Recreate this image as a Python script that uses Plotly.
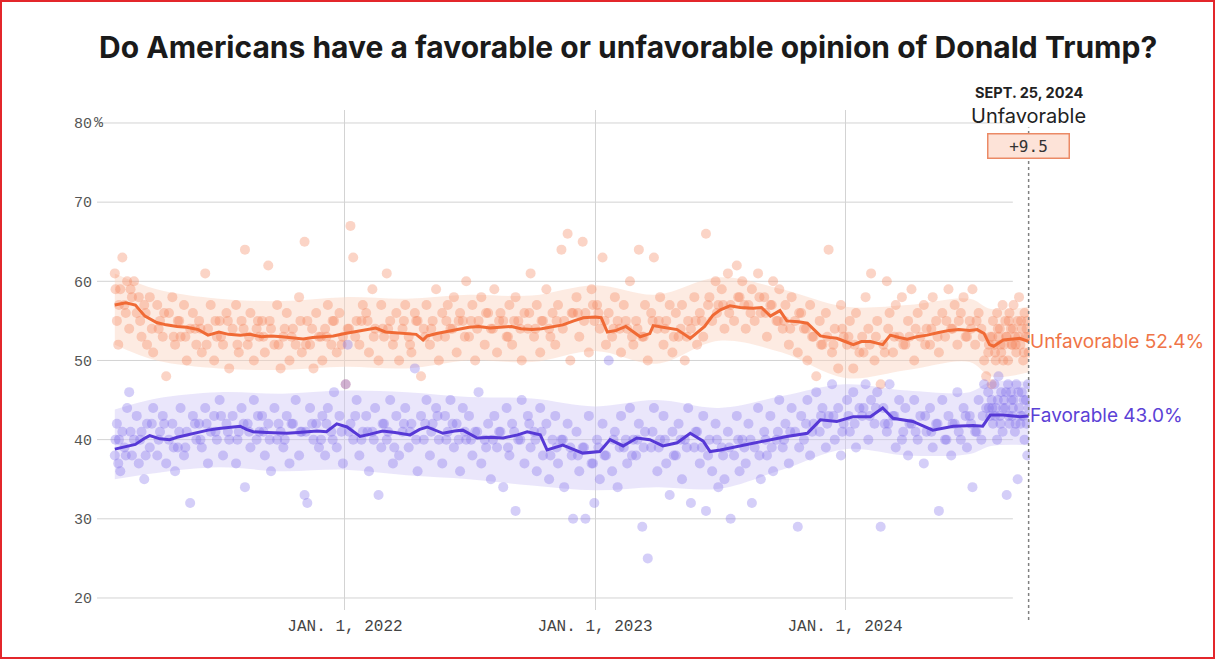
import plotly.graph_objects as go

# poll-by-poll results (each poll gives a favorable and an unfavorable share)
poll_dates = [
    "2021-01-30", "2021-01-31", "2021-02-02", "2021-02-04", "2021-02-07", "2021-02-10", "2021-02-13", "2021-02-17", "2021-02-20", "2021-02-24", "2021-02-27",
    "2021-03-03", "2021-03-06", "2021-03-10", "2021-03-14", "2021-03-18", "2021-03-22", "2021-03-27",
    "2021-04-02", "2021-04-06", "2021-04-10", "2021-04-15", "2021-04-19", "2021-04-24", "2021-04-28",
    "2021-05-02", "2021-05-06", "2021-05-11", "2021-05-15", "2021-05-20", "2021-05-24", "2021-05-29",
    "2021-06-02", "2021-06-06", "2021-06-11", "2021-06-15", "2021-06-19", "2021-06-24", "2021-06-28",
    "2021-07-02", "2021-07-07", "2021-07-12", "2021-07-16", "2021-07-21", "2021-07-26", "2021-07-30",
    "2021-08-03", "2021-08-08", "2021-08-12", "2021-08-16", "2021-08-21", "2021-08-25", "2021-08-29",
    "2021-09-02", "2021-09-06", "2021-09-11", "2021-09-15", "2021-09-20", "2021-09-24", "2021-09-29",
    "2021-10-03", "2021-10-08", "2021-10-12", "2021-10-17", "2021-10-21", "2021-10-26", "2021-10-30",
    "2021-11-03", "2021-11-07", "2021-11-11", "2021-11-16", "2021-11-20", "2021-11-24", "2021-11-29",
    "2021-12-03", "2021-12-07", "2021-12-12", "2021-12-16", "2021-12-20", "2021-12-24", "2021-12-29",
    "2022-01-02", "2022-01-05", "2022-01-09", "2022-01-13", "2022-01-18", "2022-01-22", "2022-01-27",
    "2022-02-01", "2022-02-05", "2022-02-10", "2022-02-14", "2022-02-19", "2022-02-23", "2022-02-27",
    "2022-03-03", "2022-03-08", "2022-03-12", "2022-03-17", "2022-03-21", "2022-03-26", "2022-03-30",
    "2022-04-04", "2022-04-08", "2022-04-13", "2022-04-17", "2022-04-22", "2022-04-26", "2022-04-30",
    "2022-05-05", "2022-05-09", "2022-05-14", "2022-05-18", "2022-05-23", "2022-05-27", "2022-05-31",
    "2022-06-04", "2022-06-09", "2022-06-13", "2022-06-18", "2022-06-22", "2022-06-27",
    "2022-07-01", "2022-07-06", "2022-07-10", "2022-07-15", "2022-07-19", "2022-07-24", "2022-07-29",
    "2022-08-02", "2022-08-07", "2022-08-11", "2022-08-16", "2022-08-20", "2022-08-25", "2022-08-29",
    "2022-09-02", "2022-09-07", "2022-09-11", "2022-09-16", "2022-09-20", "2022-09-25", "2022-09-29",
    "2022-10-04", "2022-10-08", "2022-10-13", "2022-10-17", "2022-10-22", "2022-10-26", "2022-10-31",
    "2022-11-04", "2022-11-08", "2022-11-13", "2022-11-17", "2022-11-22", "2022-11-26", "2022-11-30",
    "2022-12-05", "2022-12-09", "2022-12-14", "2022-12-18", "2022-12-23", "2022-12-27", "2022-12-31",
    "2023-01-04", "2023-01-08", "2023-01-12", "2023-01-17", "2023-01-21", "2023-01-26", "2023-01-30",
    "2023-02-03", "2023-02-08", "2023-02-12", "2023-02-17", "2023-02-21", "2023-02-26",
    "2023-03-02", "2023-03-06", "2023-03-11", "2023-03-15", "2023-03-19", "2023-03-24", "2023-03-28",
    "2023-04-02", "2023-04-06", "2023-04-11", "2023-04-15", "2023-04-20", "2023-04-24", "2023-04-29",
    "2023-05-03", "2023-05-08", "2023-05-12", "2023-05-17", "2023-05-21", "2023-05-26", "2023-05-30",
    "2023-06-03", "2023-06-08", "2023-06-12", "2023-06-17", "2023-06-21", "2023-06-26", "2023-06-30",
    "2023-07-05", "2023-07-09", "2023-07-14", "2023-07-18", "2023-07-23", "2023-07-27", "2023-07-31",
    "2023-08-04", "2023-08-09", "2023-08-13", "2023-08-18", "2023-08-22", "2023-08-27", "2023-08-31",
    "2023-09-05", "2023-09-09", "2023-09-14", "2023-09-18", "2023-09-23", "2023-09-27",
    "2023-10-02", "2023-10-06", "2023-10-11", "2023-10-15", "2023-10-20", "2023-10-24", "2023-10-29",
    "2023-11-02", "2023-11-07", "2023-11-11", "2023-11-16", "2023-11-20", "2023-11-25", "2023-11-29",
    "2023-12-04", "2023-12-08", "2023-12-13", "2023-12-17", "2023-12-22", "2023-12-26", "2023-12-30",
    "2024-01-04", "2024-01-08", "2024-01-13", "2024-01-17", "2024-01-22", "2024-01-26", "2024-01-31",
    "2024-02-04", "2024-02-08", "2024-02-13", "2024-02-17", "2024-02-22", "2024-02-26",
    "2024-03-02", "2024-03-06", "2024-03-11", "2024-03-15", "2024-03-20", "2024-03-24", "2024-03-29",
    "2024-04-02", "2024-04-07", "2024-04-11", "2024-04-16", "2024-04-20", "2024-04-25", "2024-04-29",
    "2024-05-04", "2024-05-08", "2024-05-13", "2024-05-17", "2024-05-22", "2024-05-26", "2024-05-31",
    "2024-06-04", "2024-06-09", "2024-06-13", "2024-06-18", "2024-06-22", "2024-06-27",
    "2024-07-01", "2024-07-05", "2024-07-09", "2024-07-14", "2024-07-18", "2024-07-22", "2024-07-25", "2024-07-28", "2024-07-31",
    "2024-08-02", "2024-08-04", "2024-08-06", "2024-08-08", "2024-08-10", "2024-08-12", "2024-08-14", "2024-08-16",
    "2024-08-18", "2024-08-20", "2024-08-22", "2024-08-24", "2024-08-26", "2024-08-28", "2024-08-30",
    "2024-09-01", "2024-09-03", "2024-09-05", "2024-09-07", "2024-09-09", "2024-09-11", "2024-09-13",
    "2024-09-15", "2024-09-17", "2024-09-19", "2024-09-21", "2024-09-23", "2024-09-25",
    # polls close to the average, filling in the core of each cloud
    "2021-02-05", "2021-02-15", "2021-02-22", "2021-03-08", "2021-03-16", "2021-03-25",
    "2021-04-04", "2021-04-12", "2021-04-26", "2021-05-04", "2021-05-13", "2021-05-27",
    "2021-06-04", "2021-06-13", "2021-06-26", "2021-07-04", "2021-07-14", "2021-07-28",
    "2021-08-06", "2021-08-14", "2021-08-27", "2021-09-04", "2021-09-13", "2021-09-26",
    "2021-10-05", "2021-10-15", "2021-10-28", "2021-11-05", "2021-11-14", "2021-11-27",
    "2021-12-05", "2021-12-14", "2021-12-27",
    "2022-01-07", "2022-01-16", "2022-01-25", "2022-02-03", "2022-02-12", "2022-02-25",
    "2022-03-05", "2022-03-14", "2022-03-28", "2022-04-06", "2022-04-15", "2022-04-28",
    "2022-05-07", "2022-05-16", "2022-05-29", "2022-06-07", "2022-06-16", "2022-06-25",
    "2022-07-04", "2022-07-13", "2022-07-26", "2022-08-05", "2022-08-14", "2022-08-27",
    "2022-09-05", "2022-09-14", "2022-09-27", "2022-10-06", "2022-10-15", "2022-10-28",
    "2022-11-06", "2022-11-15", "2022-11-28", "2022-12-07", "2022-12-16", "2022-12-29",
    "2023-01-06", "2023-01-15", "2023-01-28", "2023-02-06", "2023-02-15", "2023-02-24",
    "2023-03-04", "2023-03-13", "2023-03-26", "2023-04-04", "2023-04-13", "2023-04-26",
    "2023-05-06", "2023-05-15", "2023-05-28", "2023-06-06", "2023-06-15", "2023-06-28",
    "2023-07-07", "2023-07-16", "2023-07-29", "2023-08-07", "2023-08-16", "2023-08-29",
    "2023-09-07", "2023-09-16", "2023-09-25", "2023-10-04", "2023-10-13", "2023-10-26",
    "2023-11-05", "2023-11-14", "2023-11-27", "2023-12-06", "2023-12-15", "2023-12-28",
    "2024-01-06", "2024-01-15", "2024-01-28", "2024-02-06", "2024-02-15", "2024-02-28",
    "2024-03-04", "2024-03-13", "2024-03-26", "2024-04-04", "2024-04-13", "2024-04-27",
    "2024-05-06", "2024-05-15", "2024-05-28", "2024-06-06", "2024-06-15", "2024-06-25",
    "2024-07-03", "2024-07-11", "2024-07-20", "2024-07-29",
    "2024-08-03", "2024-08-07", "2024-08-11", "2024-08-15", "2024-08-19", "2024-08-23", "2024-08-27", "2024-08-31",
    "2024-09-02", "2024-09-06", "2024-09-10", "2024-09-14", "2024-09-18", "2024-09-22", "2024-09-24",
]

fav_polls = [
    38, 40, 42, 37, 36, 41, 39, 44, 46, 38, 40,
    43, 37, 41, 35, 42, 39, 44,
    38, 41, 43, 37, 40, 42, 36,
    39, 44, 38, 41, 32, 43, 40,
    42, 39, 44, 37, 41, 43, 40,
    45, 38, 42, 40, 43, 37, 41,
    44, 34, 42, 39, 45, 40, 41,
    43, 38, 42, 36, 44, 40, 41,
    39, 43, 37, 42, 45, 38, 41,
    33, 32, 44, 40, 42, 39, 43,
    38, 44, 41, 46, 39, 43, 37,
    47, 52, 42, 40, 45, 38, 41,
    43, 36, 41, 44, 33, 39, 42,
    40, 45, 37, 43, 38, 41, 44,
    39, 42, 49, 36, 43, 40, 45,
    38, 42, 44, 40, 37, 43, 41,
    45, 39, 42, 36, 44, 40,
    43, 38, 41, 46, 37, 40, 42,
    35, 43, 39, 41, 34, 44, 38,
    42, 31, 40, 45, 37, 43, 39,
    41, 36, 44, 38, 42, 35, 40,
    43, 37, 40, 34, 42, 39, 30,
    41, 36, 39, 30, 43, 37, 32,
    40, 35, 42, 38, 50, 36, 41,
    34, 43, 39, 37, 44, 40,
    38, 42, 29, 41, 25, 39, 44,
    36, 40, 43, 37, 33, 41, 38,
    42, 35, 40, 44, 32, 39, 41,
    37, 43, 31, 40, 36, 42, 34,
    39, 35, 41, 30, 38, 43, 36,
    40, 37, 42, 32, 39, 44, 35,
    41, 38, 43, 36, 40, 45,
    39, 42, 37, 44, 41, 29, 43,
    40, 45, 38, 42, 46, 41, 44,
    39, 43, 47, 40, 44, 38, 42,
    45, 41, 46, 39, 44, 43, 47,
    40, 45, 42, 46, 29, 44,
    41, 47, 43, 39, 45, 40, 44,
    38, 42, 45, 40, 43, 37, 41,
    44, 39, 42, 31, 45, 40, 43,
    38, 42, 46, 40, 44, 39,
    43, 34, 41, 45, 40, 47, 44, 46, 43,
    45, 42, 47, 44, 40, 48, 43, 46,
    41, 45, 44, 33, 47, 42, 46,
    43, 45, 41, 47, 35, 44, 42,
    46, 43, 40, 45, 38, 44,
    # core
    40, 38, 41, 40, 38, 42,
    40, 42, 39, 41, 39, 42,
    40, 42, 41, 43, 41, 40,
    42, 41, 43, 41, 40, 42,
    40, 42, 41, 41, 42, 40,
    42, 40, 41,
    41, 43, 40, 41, 40, 42,
    41, 39, 42, 41, 40, 42,
    41, 43, 40, 42, 40, 41,
    40, 41, 39, 40, 41, 39,
    41, 40, 42, 40, 41, 38,
    39, 40, 38, 38, 39, 37,
    39, 38, 40, 39, 40, 38,
    40, 39, 41, 39, 40, 38,
    40, 39, 41, 39, 38, 40,
    38, 39, 40, 39, 40, 38,
    40, 39, 41, 40, 41, 39,
    42, 41, 43, 42, 43, 41,
    43, 42, 44, 43, 44, 42,
    42, 43, 41, 42, 41, 43,
    41, 42, 40, 42, 41, 43,
    42, 41, 43, 44,
    44, 43, 45, 42, 44, 46, 43, 45,
    44, 42, 46, 43, 45, 42, 47,
]

unfav_polls = [
    61, 59, 55, 52, 59, 63, 57, 60, 54, 58, 60,
    56, 58, 53, 57, 52, 58, 51,
    57, 55, 53, 48, 56, 58, 52,
    55, 53, 57, 50, 54, 56, 52,
    55, 51, 61, 54, 57, 50, 53,
    55, 52, 56, 49, 54, 57, 51,
    55, 64, 52, 56, 50, 54, 53,
    55, 51, 62, 54, 52, 57, 49,
    53, 56, 50, 54, 52, 58, 51,
    65, 55, 52, 49, 56, 53, 50,
    54, 57, 52, 55, 51, 56, 53,
    47, 54, 67, 63, 55, 52, 57,
    56, 51, 59, 54, 50, 57, 53,
    61, 55, 52, 56, 50, 54, 57,
    53, 51, 56, 55, 48, 54, 57,
    52, 55, 59, 50, 56, 53, 57,
    54, 58, 51, 56, 55, 60,
    53, 57, 50, 55, 58, 52, 56,
    54, 59, 51, 56, 55, 53, 57,
    52, 58, 55, 50, 56, 54, 61,
    53, 57, 51, 55, 59, 54, 56,
    52, 57, 64, 55, 66, 50, 56,
    58, 53, 65, 56, 51, 59, 55,
    57, 54, 63, 52, 56, 53, 58,
    55, 51, 57, 54, 60, 52,
    55, 64, 53, 57, 50, 56, 63,
    54, 58, 52, 55, 57, 51, 56,
    53, 57, 50, 55, 54, 58, 52,
    56, 53, 66, 58, 55, 60, 57,
    59, 54, 61, 57, 55, 62, 58,
    60, 54, 57, 59, 55, 61, 56,
    58, 53, 57, 60, 55, 59,
    54, 57, 52, 58, 55, 51, 56,
    54, 50, 57, 53, 48, 55, 52,
    56, 64, 51, 54, 49, 57, 53,
    52, 55, 49, 56, 51, 53, 58,
    54, 61, 50, 55, 47, 52,
    60, 56, 51, 57, 53, 58, 52,
    55, 59, 50, 56, 53, 57, 54,
    52, 58, 55, 51, 56, 53, 59,
    54, 57, 52, 56, 58, 53,
    55, 59, 52, 56, 54, 50, 48, 51, 53,
    47, 55, 52, 50, 56, 53, 54, 51,
    57, 52, 55, 53, 50, 56, 54,
    52, 57, 53, 51, 55, 58, 52,
    54, 50, 56, 53, 55, 51,
    # core
    57, 56, 59, 55, 56, 54,
    54, 56, 53, 55, 53, 54,
    54, 52, 55, 53, 55, 52,
    54, 53, 55, 53, 55, 52,
    54, 53, 55, 52, 54, 53,
    53, 55, 52,
    54, 53, 55, 55, 53, 54,
    54, 53, 55, 52, 55, 53,
    54, 53, 55, 54, 55, 53,
    55, 54, 56, 54, 55, 53,
    55, 54, 56, 54, 55, 53,
    55, 54, 56, 56, 55, 57,
    56, 55, 54, 54, 55, 53,
    54, 53, 55, 55, 54, 53,
    54, 53, 55, 55, 57, 56,
    57, 56, 58, 57, 56, 58,
    56, 57, 55, 55, 54, 56,
    54, 53, 52, 53, 52, 54,
    53, 52, 51, 52, 53, 51,
    54, 53, 52, 53, 54, 52,
    54, 53, 55, 54, 55, 53,
    54, 55, 53, 52,
    53, 51, 54, 52, 50, 53, 55, 52,
    54, 52, 53, 55, 51, 54, 53,
]

# polling averages
unfav_dates = [
    "2021-01-30", "2021-02-15", "2021-03-01", "2021-03-15", "2021-04-01", "2021-04-15", "2021-05-01", "2021-05-15",
    "2021-06-01", "2021-06-15", "2021-07-01", "2021-07-15", "2021-08-01", "2021-08-15", "2021-09-01", "2021-09-15",
    "2021-10-01", "2021-10-15", "2021-11-01", "2021-11-15", "2021-12-01", "2021-12-15", "2022-01-01", "2022-01-15",
    "2022-02-01", "2022-02-15", "2022-03-01", "2022-03-15", "2022-04-01", "2022-04-15", "2022-04-25", "2022-05-01",
    "2022-05-15", "2022-06-01", "2022-06-15", "2022-07-01", "2022-07-15", "2022-08-01", "2022-08-15", "2022-09-01",
    "2022-09-15", "2022-10-01", "2022-10-15", "2022-11-01", "2022-11-15", "2022-12-01", "2022-12-15", "2023-01-01",
    "2023-01-10", "2023-01-19", "2023-02-01", "2023-02-15", "2023-03-01", "2023-03-08", "2023-03-22", "2023-03-27",
    "2023-04-10", "2023-05-01", "2023-05-20", "2023-06-01", "2023-06-10", "2023-06-22", "2023-07-03", "2023-07-17",
    "2023-08-01", "2023-08-20", "2023-09-01", "2023-09-14", "2023-09-28", "2023-10-08", "2023-10-25", "2023-11-07",
    "2023-11-26", "2023-12-10", "2023-12-20", "2024-01-01", "2024-01-13", "2024-01-25", "2024-02-07", "2024-02-25",
    "2024-03-07", "2024-03-20", "2024-04-01", "2024-04-15", "2024-04-30", "2024-05-15", "2024-06-01", "2024-06-15",
    "2024-07-01", "2024-07-12", "2024-07-22", "2024-07-30", "2024-08-05", "2024-08-19", "2024-09-01", "2024-09-12",
    "2024-09-25",
]
unfav_avg = [
    57.0, 57.3, 57.0, 55.6, 54.8, 54.5, 54.3, 54.2,
    53.9, 53.2, 53.6, 53.3, 53.2, 53.3, 53.0, 53.1,
    53.0, 52.9, 52.7, 52.9, 53.0, 53.1, 53.4, 53.6,
    53.9, 54.1, 53.6, 53.5, 53.4, 53.3, 52.6, 53.1,
    53.4, 53.7, 54.0, 54.2, 54.3, 54.1, 54.2, 54.3,
    54.0, 53.9, 54.0, 54.3, 54.5, 55.0, 55.4, 55.5,
    55.4, 53.6, 53.8, 54.3, 53.4, 53.0, 53.4, 54.4,
    54.2, 53.9, 52.8, 53.6, 54.3, 55.7, 56.4, 56.9,
    56.7, 56.6, 56.7, 55.6, 56.3, 55.0, 54.9, 54.7,
    53.1, 52.9, 52.8, 52.4, 52.0, 52.4, 52.4, 52.0,
    53.2, 52.9, 52.7, 53.0, 53.2, 53.5, 53.8, 53.9,
    53.8, 53.9, 53.4, 52.0, 51.8, 52.6, 52.7, 52.8,
    52.4,
]

fav_dates = [
    "2021-01-30", "2021-02-15", "2021-03-01", "2021-03-15", "2021-03-22", "2021-04-06", "2021-04-20", "2021-05-01",
    "2021-05-15", "2021-06-01", "2021-06-15", "2021-07-01", "2021-07-15", "2021-08-01", "2021-08-10", "2021-08-20",
    "2021-09-09", "2021-10-08", "2021-10-25", "2021-11-07", "2021-11-21", "2021-12-05", "2021-12-20", "2022-01-04",
    "2022-01-23", "2022-02-07", "2022-02-25", "2022-03-15", "2022-04-06", "2022-04-20", "2022-05-01", "2022-05-24",
    "2022-06-10", "2022-06-22", "2022-07-13", "2022-08-01", "2022-08-20", "2022-09-10", "2022-09-24", "2022-10-13",
    "2022-10-23", "2022-11-15", "2022-12-01", "2022-12-14", "2023-01-08", "2023-01-23", "2023-02-11", "2023-03-03",
    "2023-03-22", "2023-04-10", "2023-05-01", "2023-05-20", "2023-06-08", "2023-06-18", "2023-07-03", "2023-07-20",
    "2023-08-20", "2023-09-14", "2023-10-08", "2023-11-07", "2023-11-26", "2023-12-20", "2024-01-13", "2024-02-07",
    "2024-02-25", "2024-03-11", "2024-04-09", "2024-05-08", "2024-06-07", "2024-07-06", "2024-07-20", "2024-07-31",
    "2024-08-19", "2024-09-12", "2024-09-25",
]
fav_avg = [
    38.8, 39.1, 39.4, 40.2, 40.5, 40.1, 40.0, 40.3,
    40.6, 40.9, 41.2, 41.4, 41.5, 41.7, 41.3, 41.0,
    40.9, 40.8, 40.9, 41.0, 41.1, 41.0, 42.0, 41.6,
    40.4, 40.7, 41.1, 40.9, 40.6, 41.3, 41.6, 40.8,
    41.1, 41.2, 40.2, 40.3, 40.2, 40.6, 41.0, 40.6,
    38.7, 39.3, 38.8, 38.3, 38.5, 40.0, 39.2, 40.2,
    40.0, 39.2, 39.6, 40.8, 39.8, 38.5, 38.7, 39.0,
    39.6, 40.0, 40.4, 40.8, 42.5, 42.3, 42.9, 42.9,
    44.0, 42.7, 42.3, 41.2, 41.7, 41.8, 41.7, 43.1,
    43.1, 42.9, 43.0,
]

# uncertainty bands around the averages
band_dates = [
    "2021-01-30", "2021-04-01", "2021-07-01", "2021-10-01", "2022-01-01", "2022-04-01", "2022-07-01", "2022-10-01",
    "2023-01-01", "2023-04-01", "2023-07-01", "2023-10-01", "2024-01-01", "2024-04-01", "2024-07-01", "2024-08-01",
    "2024-09-25",
]
unfav_hi = [61.0, 59.0, 57.8, 57.5, 58.0, 57.8, 58.3, 58.2, 59.5, 58.3, 60.5, 59.0, 56.8, 57.0, 57.8, 56.5, 56.8]
unfav_lo = [52.0, 50.0, 49.0, 48.8, 49.2, 49.0, 50.0, 49.8, 51.2, 49.6, 52.5, 51.0, 47.8, 48.8, 49.8, 48.0, 48.5]
fav_hi = [43.8, 45.2, 46.0, 45.8, 46.2, 46.0, 45.4, 45.2, 44.2, 45.0, 44.0, 45.5, 47.0, 46.2, 46.0, 47.3, 47.3]
fav_lo = [35.0, 35.8, 36.5, 36.0, 36.2, 35.5, 35.0, 34.2, 33.6, 34.0, 33.8, 36.2, 38.8, 38.0, 38.2, 39.2, 39.3]

year_ticks = ["2022-01-01", "2023-01-01", "2024-01-01"]
year_labels = ["JAN. 1, 2022", "JAN. 1, 2023", "JAN. 1, 2024"]
y_ticks = [20, 30, 40, 50, 60, 70, 80]
y_labels = ["20", "30", "40", "50", "60", "70", "80"]

as_of = "2024-09-25"
as_of_label = "SEPT. 25, 2024"
leader = "Unfavorable"
lead_label = "+9.5"

assert len(poll_dates) == len(fav_polls) == len(unfav_polls)

ORANGE = "#f06a35"
PURPLE = "#5638d6"

W, H = 1215, 659
ml, mr, mt, mb = 97, 185, 110, 49
pw, ph = W - ml - mr, H - mt - mb

fig = go.Figure()

# bands
fig.add_trace(go.Scatter(x=band_dates, y=unfav_hi, mode="lines", line=dict(width=0, shape="spline"),
                         hoverinfo="skip", showlegend=False))
fig.add_trace(go.Scatter(x=band_dates, y=unfav_lo, mode="lines", line=dict(width=0, shape="spline"),
                         fill="tonexty", fillcolor="rgba(251,210,190,0.45)", hoverinfo="skip", showlegend=False))
fig.add_trace(go.Scatter(x=band_dates, y=fav_hi, mode="lines", line=dict(width=0, shape="spline"),
                         hoverinfo="skip", showlegend=False))
fig.add_trace(go.Scatter(x=band_dates, y=fav_lo, mode="lines", line=dict(width=0, shape="spline"),
                         fill="tonexty", fillcolor="rgba(208,200,246,0.45)", hoverinfo="skip", showlegend=False))

# individual polls
fig.add_trace(go.Scatter(x=poll_dates, y=unfav_polls, mode="markers",
                         marker=dict(size=10, color="rgba(243,128,88,0.34)", line=dict(width=0)),
                         showlegend=False))
fig.add_trace(go.Scatter(x=poll_dates, y=fav_polls, mode="markers",
                         marker=dict(size=10, color="rgba(122,102,232,0.32)", line=dict(width=0)),
                         showlegend=False))

# averages
fig.add_trace(go.Scatter(x=unfav_dates, y=unfav_avg, mode="lines", line=dict(color=ORANGE, width=3),
                         showlegend=False))
fig.add_trace(go.Scatter(x=fav_dates, y=fav_avg, mode="lines", line=dict(color=PURPLE, width=3),
                         showlegend=False))

# horizontal gridlines stop a little before the last date
for v in y_ticks:
    fig.add_shape(type="line", xref="x", yref="y", x0="2021-01-04", x1="2024-09-02", y0=v, y1=v,
                  line=dict(color="#d3d3d3", width=1), layer="below")

# the percent sign hangs after the top tick label
fig.add_annotation(x=0, y=y_ticks[-1], xref="paper", yref="y", xanchor="left", yanchor="middle",
                   xshift=-5, yshift=-1,
                   text="%", showarrow=False, font=dict(family="Liberation Mono", size=15, color="#555"))

# dotted "today" line
fig.add_shape(type="line", xref="x", yref="paper", x0=as_of, x1=as_of, y0=-0.02, y1=0.965,
              line=dict(color="#808080", width=1.5, dash="dot"))

# end labels
fig.add_annotation(x=as_of, y=unfav_avg[-1], xref="x", yref="y", xanchor="left", yanchor="middle", xshift=-1,
                   text=f"Unfavorable {unfav_avg[-1]:.1f}%", showarrow=False,
                   font=dict(family="Inter", size=19, color="#ef7447"))
fig.add_annotation(x=as_of, y=fav_avg[-1], xref="x", yref="y", xanchor="left", yanchor="middle", xshift=-1,
                   text=f"Favorable {fav_avg[-1]:.1f}%", showarrow=False,
                   font=dict(family="Inter", size=19, color="#5b41d6"))

# header above the dotted line
fig.add_annotation(x=as_of, y=1.034, xref="x", yref="paper", yanchor="middle", text=f"<b>{as_of_label}</b>",
                   showarrow=False, font=dict(family="Inter", size=14.5, color="#222"))
fig.add_annotation(x=as_of, y=0.988, xref="x", yref="paper", yanchor="middle", text=leader, showarrow=False,
                   font=dict(family="Inter", size=20, color="#222"))
fig.add_annotation(x=as_of, y=0.928, xref="x", yref="paper", yanchor="middle", text=lead_label, showarrow=False,
                   font=dict(family="DejaVu Sans Mono", size=16, color="#333"),
                   bgcolor="#fde3d8", bordercolor="#eb8a66", borderwidth=1.5, borderpad=2, width=76)

# red frame around the whole picture
fig.add_shape(type="rect", xref="paper", yref="paper",
              x0=(1 - ml) / pw, x1=(W - 1 - ml) / pw, y0=(1 - mb) / ph, y1=(H - 1 - mb) / ph,
              line=dict(color="#e3262b", width=2))

fig.update_layout(
    width=W, height=H,
    margin=dict(l=ml, r=mr, t=mt, b=mb),
    paper_bgcolor="white", plot_bgcolor="white",
    hovermode=False,
    title=dict(text="Do Americans have a favorable or unfavorable opinion of Donald Trump?",
               x=0.517, xanchor="center", y=1 - 47 / H, yanchor="middle",
               font=dict(family="Inter", size=30, color="#1a1a1a", weight=700)),
    xaxis=dict(range=["2021-01-04", "2024-09-27"], tickvals=year_ticks, ticktext=year_labels,
               showgrid=True, gridcolor="#d3d3d3", gridwidth=1, zeroline=False, showline=False, ticks="",
               ticklabelstandoff=4,
               tickfont=dict(family="Liberation Mono", size=16, color="#444")),
    yaxis=dict(range=[18.48, 81.64], tickvals=y_ticks, ticktext=y_labels, showgrid=False, zeroline=False,
               showline=False, ticks="", ticklabelstandoff=4,
               tickfont=dict(family="Liberation Mono", size=15, color="#555")),
)

fig.write_html("out.html", config={"displayModeBar": False},
               post_script="document.body.style.margin='0';")
